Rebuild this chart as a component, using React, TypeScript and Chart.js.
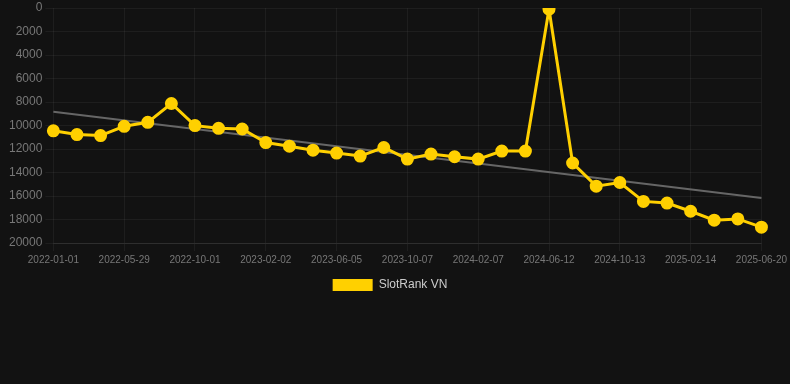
import React, { useEffect, useRef } from "react";
import { Chart, registerables } from "chart.js";

Chart.register(...registerables);

const dates = [
  "2022-01-01", "2022-02-18", "2022-04-07", "2022-05-29", "2022-07-10", "2022-08-20",
  "2022-10-01", "2022-11-12", "2022-12-22", "2023-02-02", "2023-03-15", "2023-04-25",
  "2023-06-05", "2023-07-16", "2023-08-27", "2023-10-07", "2023-11-17", "2023-12-28",
  "2024-02-07", "2024-03-20", "2024-05-01", "2024-06-12", "2024-07-23", "2024-09-02",
  "2024-10-13", "2024-11-23", "2025-01-03", "2025-02-14", "2025-03-27", "2025-05-08",
  "2025-06-20",
];

const ranks = [
  10450, 10770, 10860, 10070, 9730, 8130, 10010, 10240, 10300, 11450, 11760, 12100,
  12350, 12600, 11870, 12860, 12430, 12660, 12860, 12180, 12180, 100, 13190, 15160,
  14850, 16460, 16600, 17300, 18060, 17950, 18650,
];

const trend: (number | null)[] = [
  8830, null, null, null, null, null, null, null, null, null, null, null, null, null, null,
  null, null, null, null, null, null, null, null, null, null, null, null, null, null, null,
  16170,
];

const yTicks = [0, 2000, 4000, 6000, 8000, 10000, 12000, 14000, 16000, 18000, 20000];

export default function App() {
  const ref = useRef<HTMLCanvasElement>(null);
  useEffect(() => {
    document.body.style.margin = "0";
    document.body.style.background = "#121212";
    const chart = new Chart(ref.current!, {
      type: "line",
      data: {
        labels: dates,
        datasets: [
          {
            label: "SlotRank VN",
            data: ranks,
            borderColor: "#FFD000",
            backgroundColor: "#FFD000",
            borderWidth: 3,
            pointRadius: 5,
            pointHoverRadius: 5,
            pointBackgroundColor: "#FFD000",
            pointBorderColor: "#FFD000",
            tension: 0,
          },
          {
            label: "trend",
            data: trend,
            borderColor: "#666666",
            backgroundColor: "#666666",
            borderWidth: 2,
            pointRadius: 0,
            spanGaps: true,
          },
        ],
      },
      options: {
        animation: false,
        responsive: false,
        maintainAspectRatio: false,
        layout: { padding: { left: 6, right: 16, top: 0, bottom: 0 } },
        plugins: {
          legend: {
            position: "bottom",
            labels: {
              color: "#cccccc",
              font: { size: 12, family: "Liberation Sans, Arial, sans-serif" },
              boxWidth: 40,
              boxHeight: 12,
              generateLabels: (c) =>
                Chart.defaults.plugins.legend.labels
                  .generateLabels(c)
                  .filter((it) => it.text !== "trend")
                  .map((it) => ({ ...it, lineWidth: 0 })),
            },
          },
          tooltip: { enabled: false },
        },
        scales: {
          x: {
            grid: { color: "rgba(255,255,255,0.05)", tickLength: 8 },
            border: { color: "rgba(255,255,255,0.08)" },
            ticks: {
              color: "#777777",
              font: { size: 10, family: "Liberation Sans, Arial, sans-serif" },
              maxRotation: 0,
              autoSkip: true,
              callback: function (_v, i) {
                return i % 3 === 0 ? dates[i] : null;
              },
            },
          },
          y: {
            reverse: true,
            min: 0,
            max: 20000,
            afterBuildTicks: (axis) => {
              axis.ticks = yTicks.map((v) => ({ value: v }));
            },
            grid: { color: "rgba(255,255,255,0.05)" },
            border: { display: false },
            ticks: {
              color: "#777777",
              font: { size: 12, family: "Liberation Sans, Arial, sans-serif", lineHeight: 0.2 },
              callback: (v) => String(v),
            },
          },
        },
      },
    });
    return () => chart.destroy();
  }, []);
  return (
    <div style={{ width: 790, height: 384, background: "#121212" }}>
      <canvas ref={ref} width={790} height={301} style={{ display: "block" }} />
    </div>
  );
}
